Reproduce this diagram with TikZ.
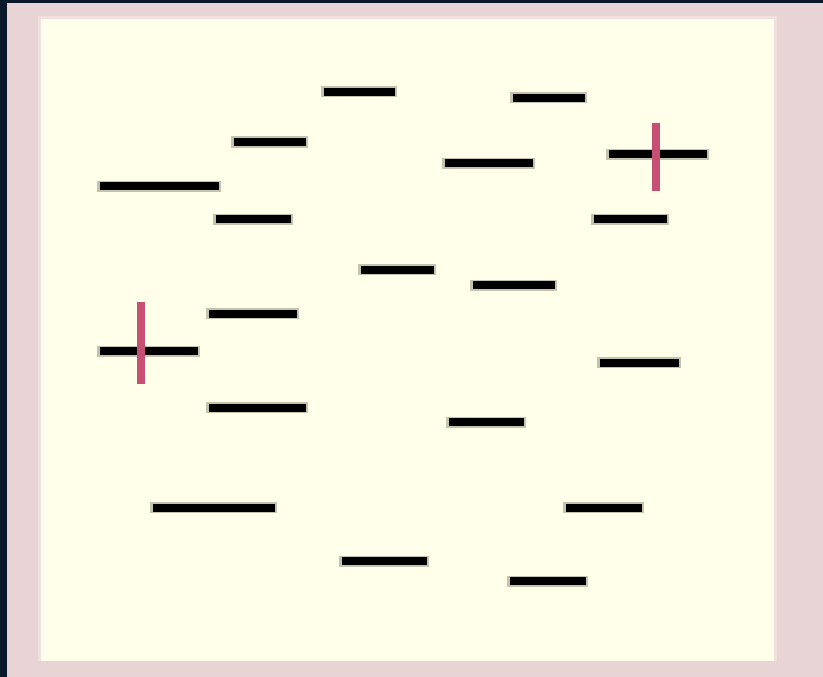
\documentclass[tikz,border=0pt]{standalone}
\definecolor{navy}{RGB}{11,26,43}
\definecolor{pinkbg}{RGB}{232,211,213}
\definecolor{paleedge}{RGB}{241,224,222}
\definecolor{paper}{RGB}{255,255,234}
\definecolor{halo}{RGB}{196,196,174}
\definecolor{mark}{RGB}{198,79,115}
\tikzset{
  halostroke/.style={draw=halo, line width=11pt, line cap=butt},
  corestroke/.style={draw=black, line width=8pt, line cap=butt},
  redmark/.style={draw=mark, line width=8pt, line cap=butt},
}
\newcommand{\seg}[3]{%
  \draw[halostroke] (#1,#3) -- (#2,#3);
  \draw[corestroke] ({#1+2.5},#3) -- ({#2-2.5},#3);}
\begin{document}
\begin{tikzpicture}[x=1pt,y=-1pt]
\useasboundingbox (0,0) rectangle (823,677);
\fill[pinkbg] (0,0) rectangle (823,677);
\fill[navy] (0,0) rectangle (823,3);
\fill[navy] (0,0) rectangle (7,677);
\fill[paleedge] (38,16) rectangle (777,661);
\fill[paper] (41,19) rectangle (774,660.7);
% segments
\seg{321}{397}{92}
\seg{510}{587}{98}
\seg{231}{308}{142}
\seg{442}{535}{163}
\seg{606}{709}{154}
\seg{97}{221}{186}
\seg{213}{293}{219}
\seg{591}{669}{219}
\seg{358}{436}{269.5}
\seg{470}{557}{285}
\seg{206}{299}{313.5}
\seg{97}{200}{351}
\seg{597}{681}{362.5}
\seg{206}{308}{407.5}
\seg{446}{526}{422}
\seg{150}{277}{507.5}
\seg{563}{644}{507.5}
\seg{339}{429}{561}
\seg{507}{588}{581}
% red crosses
\draw[redmark] (141,302) -- (141,384);
\draw[redmark] (656,122.7) -- (656,191);
\end{tikzpicture}
\end{document}
